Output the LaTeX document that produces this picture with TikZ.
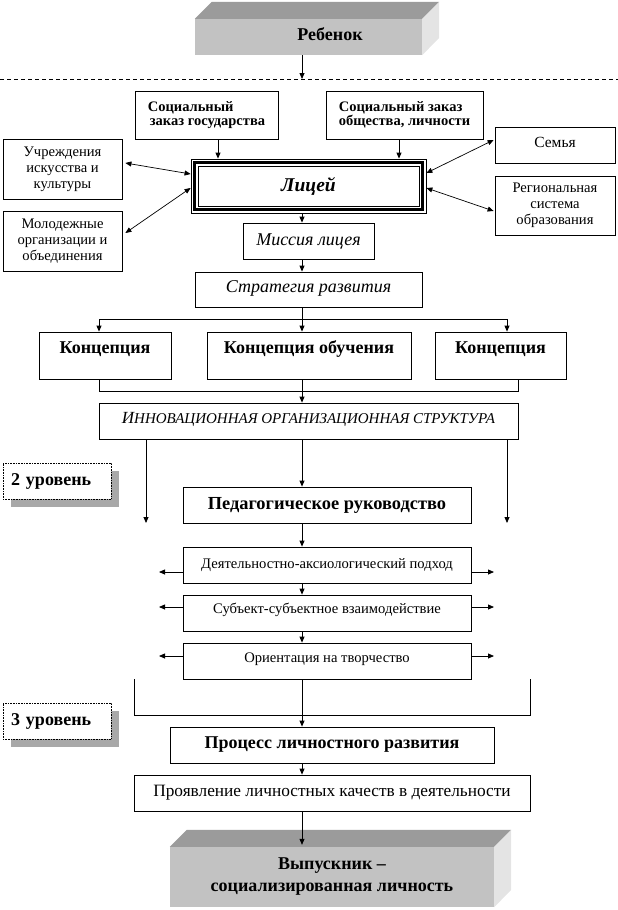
\documentclass[tikz,border=0pt]{standalone}
\usepackage{fontspec}
\setmainfont{Liberation Serif}
\usetikzlibrary{arrows.meta,calc,backgrounds}
\definecolor{topg}{RGB}{155,155,155}
\definecolor{frontg}{RGB}{194,194,194}
\definecolor{sideg}{RGB}{228,228,228}
\definecolor{shadowg}{RGB}{168,168,168}
\begin{document}
\begin{tikzpicture}[x=1pt,y=-1pt,
  box/.style={draw, line width=0.8pt, inner sep=1pt, align=center},
  arr/.style={line width=0.8pt, -{Triangle[length=6pt,width=5pt]}},
  dbl/.style={line width=0.7pt, {Triangle[length=6pt,width=5pt]}-{Triangle[length=6pt,width=5pt]}},
  ln/.style={line width=0.8pt},
  fN/.style={font=\fontsize{14.6}{16}\selectfont},
  fL/.style={font=\fontsize{17.3}{20}\selectfont},
  fB/.style={font=\fontsize{18}{22}\selectfont\bfseries},
  fBs/.style={font=\fontsize{14.5}{14}\selectfont\bfseries},
  fI/.style={font=\fontsize{18}{20}\selectfont\itshape},
  lvl/.style={draw, densely dotted, line width=0.6pt, fill=white, minimum width=108pt,
    minimum height=36pt, inner xsep=8pt, inner ysep=0pt, text width=92pt, align=left,
    font=\fontsize{18}{20}\selectfont\bfseries},
  face/.style={draw=none, inner sep=0pt, align=center},
]
\useasboundingbox (0,0) rectangle (618,910);

% vertical guide coordinates
\coordinate (xs) at (302,0);
\coordinate (xg) at (218,0);
\coordinate (xo) at (399,0);
\coordinate (xl) at (99,0);
\coordinate (xr) at (507,0);
\coordinate (xr2) at (518,0);
\coordinate (lft) at (159,0);
\coordinate (rgt) at (494,0);

% Child (3D block)
\node[face, fill=frontg, minimum width=227pt, minimum height=36pt, fB, text height=12pt, text depth=6pt] (reb) at (308.5,37) {\hspace*{43pt}Ребенок};
\fill[topg] (reb.north west) -- ++(17,-17) -- ($(reb.north east)+(17,-17)$) -- (reb.north east) -- cycle;
\fill[sideg] (reb.north east) -- ++(17,-17) -- ++(0,36) -- (reb.south east) -- cycle;

% dashed separator
\coordinate (dl) at (0,79);
\coordinate (dr) at (618,79);
\draw[line width=0.7pt, dash pattern=on 4pt off 3pt] (dl) -- (dr);
\coordinate (dtip) at (302,79);
\draw[arr] (reb.south -| xs) -- (dtip);

% social orders
\node[box, fBs, minimum width=143pt, minimum height=48pt, align=left] (gov) at (206.5,115) {Социальный\\\hspace*{2pt}заказ государства};
\node[box, fBs, minimum width=157pt, minimum height=48pt, align=left] (soc) at (404.5,115) {Социальный заказ\\общества, личности};

% side boxes
\node[box, fN, minimum width=119pt, minimum height=60pt] (uchr) at (62.5,169) {Учреждения\\искусства и\\культуры};
\node[box, fN, minimum width=119pt, minimum height=60pt] (mol) at (62.5,241) {Молодежные\\организации и\\объединения};
\node[box, font=\fontsize{15.5}{16}\selectfont, minimum width=120pt, minimum height=36pt, text height=10pt, text depth=6pt] (sem) at (555,145) {Семья};
\node[box, fN, minimum width=120pt, minimum height=59pt] (reg) at (555,205.5) {Региональная\\система\\образования};

% Lyceum
\node[draw, line width=0.8pt, minimum width=235pt, minimum height=54pt,
  font=\fontsize{19.5}{20}\selectfont\bfseries\itshape] (lic) at (308.5,186) {Лицей};
\draw[line width=2.4pt] ([shift={(4,4)}]lic.north west) rectangle ([shift={(-4,-4)}]lic.south east);
\draw[line width=0.8pt] ([shift={(7.5,7.5)}]lic.north west) rectangle ([shift={(-7.5,-7.5)}]lic.south east);

\node[box, fI, minimum width=131pt, minimum height=36pt] (mis) at (308.5,241) {Миссия лицея};
\node[box, font=\fontsize{18}{20}\selectfont\itshape, minimum width=227pt, minimum height=35pt, text height=11pt, text depth=6pt] (str) at (308.5,289.5) {Стратегия развития};

% concepts
\node[box, fB, minimum width=132pt, minimum height=47pt, text height=12pt, text depth=17pt] (k1) at (105,355.5) {Концепция};
\node[box, fB, minimum width=204pt, minimum height=47pt, text height=12pt, text depth=17pt] (k2) at (309,355.5) {Концепция обучения};
\node[box, fB, minimum width=131pt, minimum height=47pt, text height=12pt, text depth=17pt] (k3) at (500.5,355.5) {Концепция};

\node[box, minimum width=419pt, minimum height=36pt, font=\itshape, text height=11pt, text depth=7pt] (inn) at (308.5,421)
  {{\fontsize{17}{20}\selectfont И}{\fontsize{15}{20}\selectfont ННОВАЦИОННАЯ ОРГАНИЗАЦИОННАЯ СТРУКТУРА}};

% level 2
\node[lvl] (l2) at (57,481) {2 уровень};
\begin{scope}[on background layer]
\fill[shadowg] ([shift={(8,8)}]l2.north west) rectangle ([shift={(8,8)}]l2.south east);
\end{scope}

\node[box, font=\fontsize{18.4}{22}\selectfont\bfseries, minimum width=288pt, minimum height=36pt] (ped) at (327,505) {Педагогическое руководство};
\node[box, fN, minimum width=288pt, minimum height=36pt, text height=10pt, text depth=4pt] (dey) at (327,565) {Деятельностно-аксиологический подход};
\node[box, fN, minimum width=288pt, minimum height=36pt, text height=10pt, text depth=10pt] (sub) at (327,613) {Субъект-субъектное взаимодействие};
\node[box, fN, minimum width=288pt, minimum height=36pt, text height=10pt, text depth=8pt] (ori) at (327,661) {Ориентация на творчество};

% level 3
\node[lvl] (l3) at (57,721) {3 уровень};
\begin{scope}[on background layer]
\fill[shadowg] ([shift={(8,8)}]l3.north west) rectangle ([shift={(8,8)}]l3.south east);
\end{scope}

\node[box, fB, minimum width=324pt, minimum height=36pt] (pro) at (332,745) {Процесс личностного развития};
\node[box, fL, minimum width=396pt, minimum height=36pt] (pry) at (332,793) {Проявление личностных качеств в деятельности};

% Graduate (3D block)
\node[face, fill=frontg, minimum width=324pt, minimum height=60pt, fB] (vyp) at (332,877) {Выпускник –\\социализированная личность};
\fill[topg] (vyp.north west) -- ++(17,-17) -- ($(vyp.north east)+(17,-17)$) -- (vyp.north east) -- cycle;
\fill[sideg] (vyp.north east) -- ++(17,-17) -- ++(0,60) -- (vyp.south east) -- cycle;

% connectors
\draw[arr] (gov.south -| xg) -- (lic.north -| xg);
\draw[arr] (soc.south -| xo) -- (lic.north -| xo);
\draw[dbl] ([xshift=3pt,yshift=6pt]uchr.east) -- ([yshift=12pt]lic.west);
\draw[dbl] ([xshift=3pt,yshift=8pt]mol.east) -- ([yshift=-2pt]lic.west);
\draw[dbl] ([xshift=-1pt,yshift=5pt]sem.west) -- ([yshift=13pt]lic.east);
\draw[dbl] ([xshift=-1pt,yshift=-5.5pt]reg.west) -- ([yshift=-2pt]lic.east);

\draw[arr] (lic.south -| xs) -- (mis.north -| xs);
\draw[arr] (mis.south -| xs) -- (str.north -| xs);
\coordinate (br1) at (302,319);
\draw[ln] (str.south -| xs) -- (br1);
\draw[ln] (br1 -| xl) -- (br1 -| xr);
\draw[arr] (br1 -| xl) -- (k1.north -| xl);
\draw[arr] (br1) -- (k2.north -| xs);
\draw[arr] (br1 -| xr) -- (k3.north -| xr);
\coordinate (br2) at (302,391);
\draw[ln] (k1.south -| xl) -- (br2 -| xl) -- (br2 -| xr2) -- (k3.south -| xr2);
\draw[ln] (k2.south -| xs) -- (br2);
\draw[arr] (br2) -- (inn.north -| xs);

\coordinate (el) at (146,523);
\coordinate (er) at (507,523);
\draw[arr] (inn.south -| el) -- (el);
\draw[arr] (inn.south -| xs) -- (ped.north -| xs);
\draw[arr] (inn.south -| er) -- (er);

\draw[arr] (ped.south -| xs) -- (dey.north -| xs);
\draw[arr] (dey.south -| xs) -- (sub.north -| xs);
\draw[arr] (sub.south -| xs) -- (ori.north -| xs);

\coordinate (dy) at (0,572);
\coordinate (sy) at (0,607);
\coordinate (oy) at (0,656);
\draw[arr] (dey.west |- dy) -- (lft |- dy);
\draw[arr] (dey.east |- dy) -- (rgt |- dy);
\draw[arr] (sub.west |- sy) -- (lft |- sy);
\draw[arr] (sub.east |- sy) -- (rgt |- sy);
\draw[arr] (ori.west |- oy) -- (lft |- oy);
\draw[arr] (ori.east |- oy) -- (rgt |- oy);

\coordinate (bl) at (134,679);
\coordinate (brr) at (530,679);
\coordinate (bm) at (302,715);
\draw[ln] (bl) -- (bl |- bm) -- (brr |- bm) -- (brr);
\draw[arr] (ori.south -| xs) -- (pro.north -| xs);
\draw[arr] (pro.south -| xs) -- (pry.north -| xs);
\draw[arr] (pry.south -| xs) -- ([yshift=2pt]vyp.north -| xs);
\end{tikzpicture}
\end{document}
